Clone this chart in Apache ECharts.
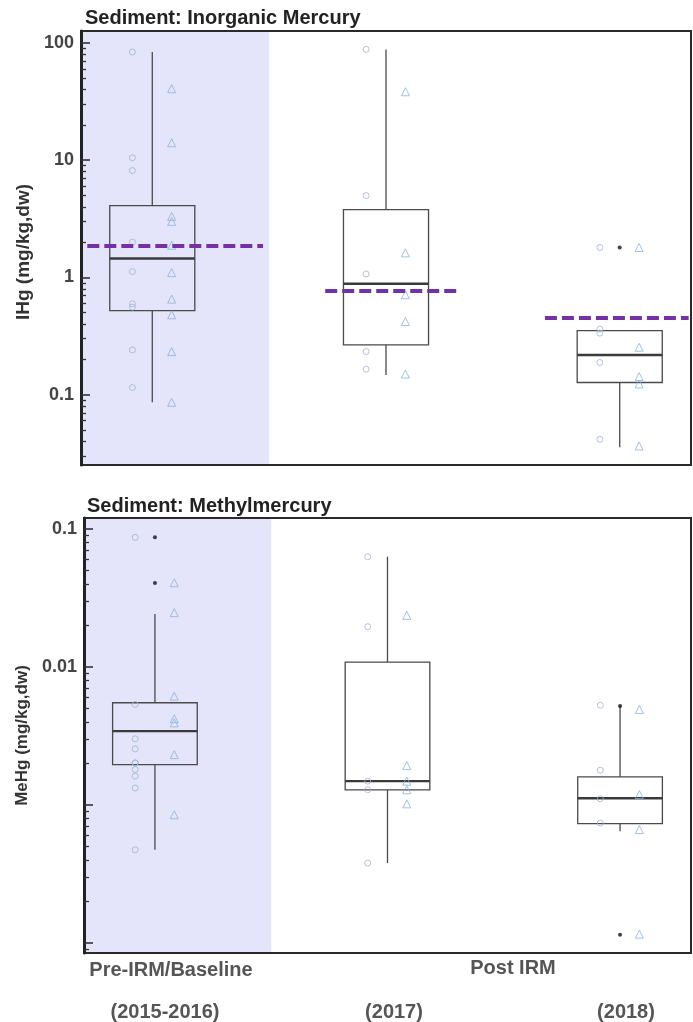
<!DOCTYPE html>
<html>
<head>
<meta charset="utf-8">
<script src="https://cdn.jsdelivr.net/npm/echarts@6/dist/echarts.min.js"></script>
<style>html,body{margin:0;padding:0;background:#fff}#c{width:693px;height:1022px}</style>
</head>
<body>
<div id="c"></div>
<script>
// ---------- DATA ----------
const groupLabels = ['Pre-IRM/Baseline', 'Post IRM'];
const yearLabels = ['(2015-2016)', '(2017)', '(2018)'];
const titles = ['Sediment: Inorganic Mercury', 'Sediment: Methylmercury'];
const axisNames = ['IHg (mg/kg,dw)', 'MeHg (mg/kg,dw)'];

// box stats per group: [lowWhisker, Q1, median, Q3, highWhisker]
const ihgBox = [
  [0.086, 0.522, 1.45, 4.10, 83.8],
  [0.147, 0.266, 0.883, 3.79, 88.3],
  [0.0355, 0.127, 0.218, 0.352, 0.352]
];
const ihgCircles = [
  [83.8, 10.5, 8.17, 2.0, 1.12, 0.596, 0.558, 0.241, 0.115],
  [88.3, 4.99, 1.07, 0.233, 0.165],
  [1.80, 0.362, 0.335, 0.188, 0.0416]
];
const ihgTriangles = [
  [40.8, 14.1, 3.32, 3.01, 1.88, 1.10, 0.653, 0.48, 0.233, 0.086],
  [38.4, 1.62, 0.711, 0.421, 0.150],
  [1.80, 0.254, 0.1426, 0.1234, 0.0365]
];
const ihgOutliers = [[], [], [1.80]];
const ihgThresholds = [1.88, 0.765, 0.455];

const mehgBox = [
  [0.000474, 0.00196, 0.00343, 0.00551, 0.0242],
  [0.00038, 0.00129, 0.00149, 0.01087, 0.063],
  [0.000645, 0.000733, 0.00112, 0.0016, 0.00521]
];
const mehgCircles = [
  [0.087, 0.00536, 0.00302, 0.00255, 0.00202, 0.00202, 0.00181, 0.00162, 0.00133, 0.000474],
  [0.063, 0.0196, 0.00149, 0.00129, 0.00038],
  [0.00528, 0.00179, 0.00111, 0.000741]
];
const mehgTriangles = [
  [0.0408, 0.0248, 0.00615, 0.00422, 0.00394, 0.00232, 0.00085],
  [0.0237, 0.00193, 0.00149, 0.00129, 0.00102],
  [0.00493, 0.00119, 0.000664, 0.000116]
];
const mehgOutliers = [[0.0871, 0.0406], [], [0.00521, 0.000115]];

const ihgTickLabels = [0.1, 1, 10, 100];
const mehgTickLabels = [0.01, 0.1];

// ---------- STYLE / LAYOUT ----------
const X_MIN = -0.305, X_MAX = 2.305;
const SHADE_END = 0.5;
const BOX_HALF = 0.182;
const CIRCLE_DX = -0.085, TRI_DX = 0.083;
const THRESH_EXTENT = [[-0.278, 0.474], [-0.26, 0.316], [-0.32, 0.295]];
const FONT = '"Liberation Sans", Arial, sans-serif';
const Y_RANGES = [[0.0251, 126.7], [8.47e-5, 0.1202]];
const NAME_SIZES = [19, 17];
const NAME_PAD = [[0, 8, 0, 0], [0, 0, 0, 0]];
const SHADE = '#e4e4fa';

function decadeTicks(lo, hi) {
  const major = [], minor = [];
  for (let k = Math.floor(Math.log10(lo)); k <= Math.ceil(Math.log10(hi)); k++) {
    const b = Math.pow(10, k);
    if (b >= lo && b <= hi) major.push(+b.toPrecision(6));
    for (let m = 2; m <= 9; m++) {
      const v = +(m * b).toPrecision(6);
      if (v >= lo && v <= hi) minor.push(v);
    }
  }
  return { major, minor };
}

function pts(groups, dx) {
  const out = [];
  groups.forEach((arr, g) => arr.forEach(v => out.push([g + dx, v])));
  return out;
}

function renderBox(params, api) {
  const x = api.value(0);
  const lo = api.coord([x, api.value(1)]);
  const q1 = api.coord([x, api.value(2)]);
  const med = api.coord([x, api.value(3)]);
  const q3 = api.coord([x, api.value(4)]);
  const hi = api.coord([x, api.value(5)]);
  const l = api.coord([x - BOX_HALF, api.value(3)])[0];
  const r = api.coord([x + BOX_HALF, api.value(3)])[0];
  const stroke = { stroke: '#4a4a4a', lineWidth: 1.3, fill: null };
  const children = [];
  if (hi[1] < q3[1] - 0.5) children.push({ type: 'line', shape: { x1: hi[0], y1: hi[1], x2: hi[0], y2: q3[1] }, style: stroke });
  if (lo[1] > q1[1] + 0.5) children.push({ type: 'line', shape: { x1: lo[0], y1: q1[1], x2: lo[0], y2: lo[1] }, style: stroke });
  children.push({ type: 'rect', shape: { x: l, y: q3[1], width: r - l, height: q1[1] - q3[1] }, style: stroke });
  children.push({ type: 'line', shape: { x1: l, y1: med[1], x2: r, y2: med[1] }, style: { stroke: '#3a3a3a', lineWidth: 2.4 } });
  return { type: 'group', children };
}

const grids = [
  { left: 81, top: 31, width: 610, height: 434 },
  { left: 84, top: 518, width: 607, height: 435 }
];

const yAxes = [];
const series = [];
const sets = [
  { box: ihgBox, circ: ihgCircles, tri: ihgTriangles, out: ihgOutliers, labels: ihgTickLabels },
  { box: mehgBox, circ: mehgCircles, tri: mehgTriangles, out: mehgOutliers, labels: mehgTickLabels }
];

sets.forEach((s, gi) => {
  const [lo, hi] = Y_RANGES[gi];
  const t = decadeTicks(lo, hi);
  yAxes.push({
    type: 'log', logBase: 10, gridIndex: gi, min: lo, max: hi, position: 'left', offset: 0, z: 10,
    name: axisNames[gi], nameLocation: 'middle', nameGap: 39,
    nameTextStyle: { fontFamily: FONT, fontWeight: 'bold', fontSize: NAME_SIZES[gi], color: '#333', padding: NAME_PAD[gi] },
    axisLine: { show: true, onZero: false, lineStyle: { color: '#222', width: 3 } },
    axisTick: { show: true, inside: true, length: 9, customValues: t.major, lineStyle: { color: '#333', width: 1.6 } },
    axisLabel: { show: true, customValues: s.labels, margin: 7, fontFamily: FONT, fontWeight: 'bold', fontSize: 18, color: '#444',
      formatter: v => String(+Number(v).toPrecision(6)) },
    splitLine: { show: false }, minorTick: { show: false }
  });
  yAxes.push({
    type: 'log', logBase: 10, gridIndex: gi, min: lo, max: hi, position: 'left', offset: 0, z: 10,
    axisLine: { show: false, onZero: false },
    axisTick: { show: true, inside: true, length: 5, customValues: t.minor, lineStyle: { color: '#333', width: 1.3 } },
    axisLabel: { show: false }, splitLine: { show: false }
  });
  const yi = gi * 2;
  // shaded baseline region
  series.push({
    type: 'scatter', xAxisIndex: gi, yAxisIndex: yi, data: [], z: 1, silent: true,
    markArea: { silent: true, itemStyle: { color: SHADE, opacity: 1 },
      data: [[{ coord: [X_MIN, lo] }, { coord: [SHADE_END, hi] }]] }
  });
  series.push({
    type: 'custom', xAxisIndex: gi, yAxisIndex: yi, z: 3, silent: true,
    renderItem: renderBox,
    data: s.box.map((b, g) => [g].concat(b))
  });
  series.push({
    type: 'scatter', xAxisIndex: gi, yAxisIndex: yi, z: 4, silent: true,
    symbol: 'circle', symbolSize: 6,
    itemStyle: { color: 'rgba(0,0,0,0)', borderColor: '#9db5d2', borderWidth: 1 },
    data: pts(s.circ, CIRCLE_DX)
  });
  series.push({
    type: 'scatter', xAxisIndex: gi, yAxisIndex: yi, z: 4, silent: true,
    symbol: 'triangle', symbolSize: 8,
    itemStyle: { color: 'rgba(0,0,0,0)', borderColor: '#8ab3df', borderWidth: 1 },
    data: pts(s.tri, TRI_DX)
  });
  series.push({
    type: 'scatter', xAxisIndex: gi, yAxisIndex: yi, z: 5, silent: true,
    symbol: 'circle', symbolSize: 4,
    itemStyle: { color: '#111' },
    data: pts(s.out, 0)
  });
});

// threshold dashed lines on IHg panel
series.push({
  type: 'scatter', xAxisIndex: 0, yAxisIndex: 0, data: [], z: 6, silent: true,
  markLine: {
    silent: true, symbol: ['none', 'none'], label: { show: false },
    lineStyle: { color: '#7530a6', width: 4, type: [12, 5], opacity: 1 },
    data: ihgThresholds.map((v, g) => [
      { coord: [g + THRESH_EXTENT[g][0], v] },
      { coord: [g + THRESH_EXTENT[g][1], v] }
    ])
  }
});

const xAxes = grids.map((g, i) => ({
  type: 'value', gridIndex: i, min: X_MIN, max: X_MAX, show: false
}));

const txt = (text, x, y, size, color) => ({
  type: 'text', x, y, style: { text, x: 0, y: 0, align: 'center', verticalAlign: 'middle',
    fill: color, font: 'bold ' + size + 'px ' + FONT }
});

const option = {
  animation: false,
  backgroundColor: '#fff',
  title: [
    { text: titles[0], left: 80, top: 3, textStyle: { fontFamily: FONT, fontWeight: 'bold', fontSize: 20, color: '#222' } },
    { text: titles[1], left: 82, top: 491, textStyle: { fontFamily: FONT, fontWeight: 'bold', fontSize: 20, color: '#222' } }
  ],
  grid: grids.map(g => Object.assign({ show: true, borderColor: '#2a2a2a', borderWidth: 2, backgroundColor: 'transparent', z: 10 }, g)),
  xAxis: xAxes,
  yAxis: yAxes,
  series,
  graphic: [
    txt(groupLabels[0], 171, 970, 20, '#555'),
    txt(groupLabels[1], 513, 968, 20, '#555'),
    txt(yearLabels[0], 165, 1012, 20, '#555'),
    txt(yearLabels[1], 394, 1012, 20, '#555'),
    txt(yearLabels[2], 626, 1012, 20, '#555')
  ]
};

const chart = echarts.init(document.getElementById('c'), null, { renderer: 'canvas' });
chart.setOption(option);
</script>
</body>
</html>
